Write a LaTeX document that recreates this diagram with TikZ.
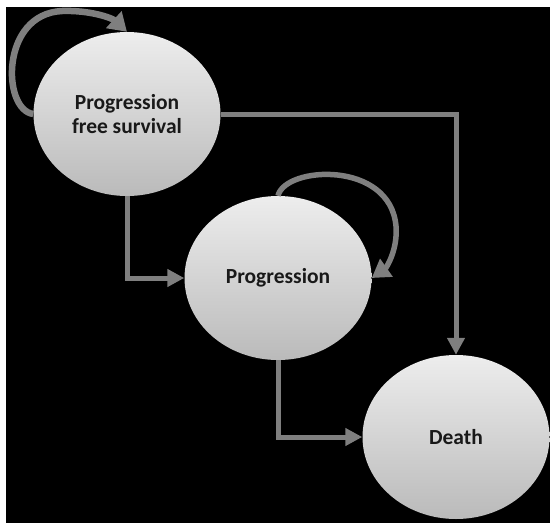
\documentclass[tikz,border=0pt]{standalone}
\usepackage{fontspec}
\setmainfont{Carlito}
\usetikzlibrary{shapes.geometric,arrows.meta}
\definecolor{conngray}{HTML}{7F7F7F}
\tikzset{
  state/.style={ellipse, minimum width=187pt, minimum height=164pt, inner sep=0pt,
    top color=black!7, bottom color=black!27, draw=none,
    font=\fontsize{21.5}{24}\selectfont\bfseries, align=center, text=black!90},
  conn/.style={draw=conngray, line width=5pt,
    -{Triangle[length=17pt,width=17pt]}},
  loopa/.style={draw=conngray, line width=6.5pt,
    -{Triangle[length=18pt,width=22pt]}},
  loopb/.style={draw=conngray, line width=5.5pt,
    -{Triangle[length=18pt,width=21pt]}}
}
\begin{document}
\begin{tikzpicture}[x=1pt,y=-1pt]
\useasboundingbox (0,0) rectangle (550,523);
\fill[white] (0,0) rectangle (550,523);
\fill[black] (6,7) rectangle (550,523);

\node[state] (pfs) at (127,114) {Progression\\free survival};
\node[state] (prog) at (278,278) {Progression};
\node[state] (death) at (456,437) {Death};

\draw[conn] (pfs.east) -| (death.north);
\draw[conn] (pfs.south) |- (prog.west);
\draw[conn] (prog.south) |- (death.west);

\draw[loopa] (pfs.west) .. controls (2,110) and (0,14) .. (62,11)
  .. controls (90,10) and (112,18) .. (pfs.north);
\draw[loopb] (prog.north) .. controls (285,166) and (390,160) .. (396,226)
  .. controls (398,250) and (386,268) .. (prog.east);
\end{tikzpicture}
\end{document}
